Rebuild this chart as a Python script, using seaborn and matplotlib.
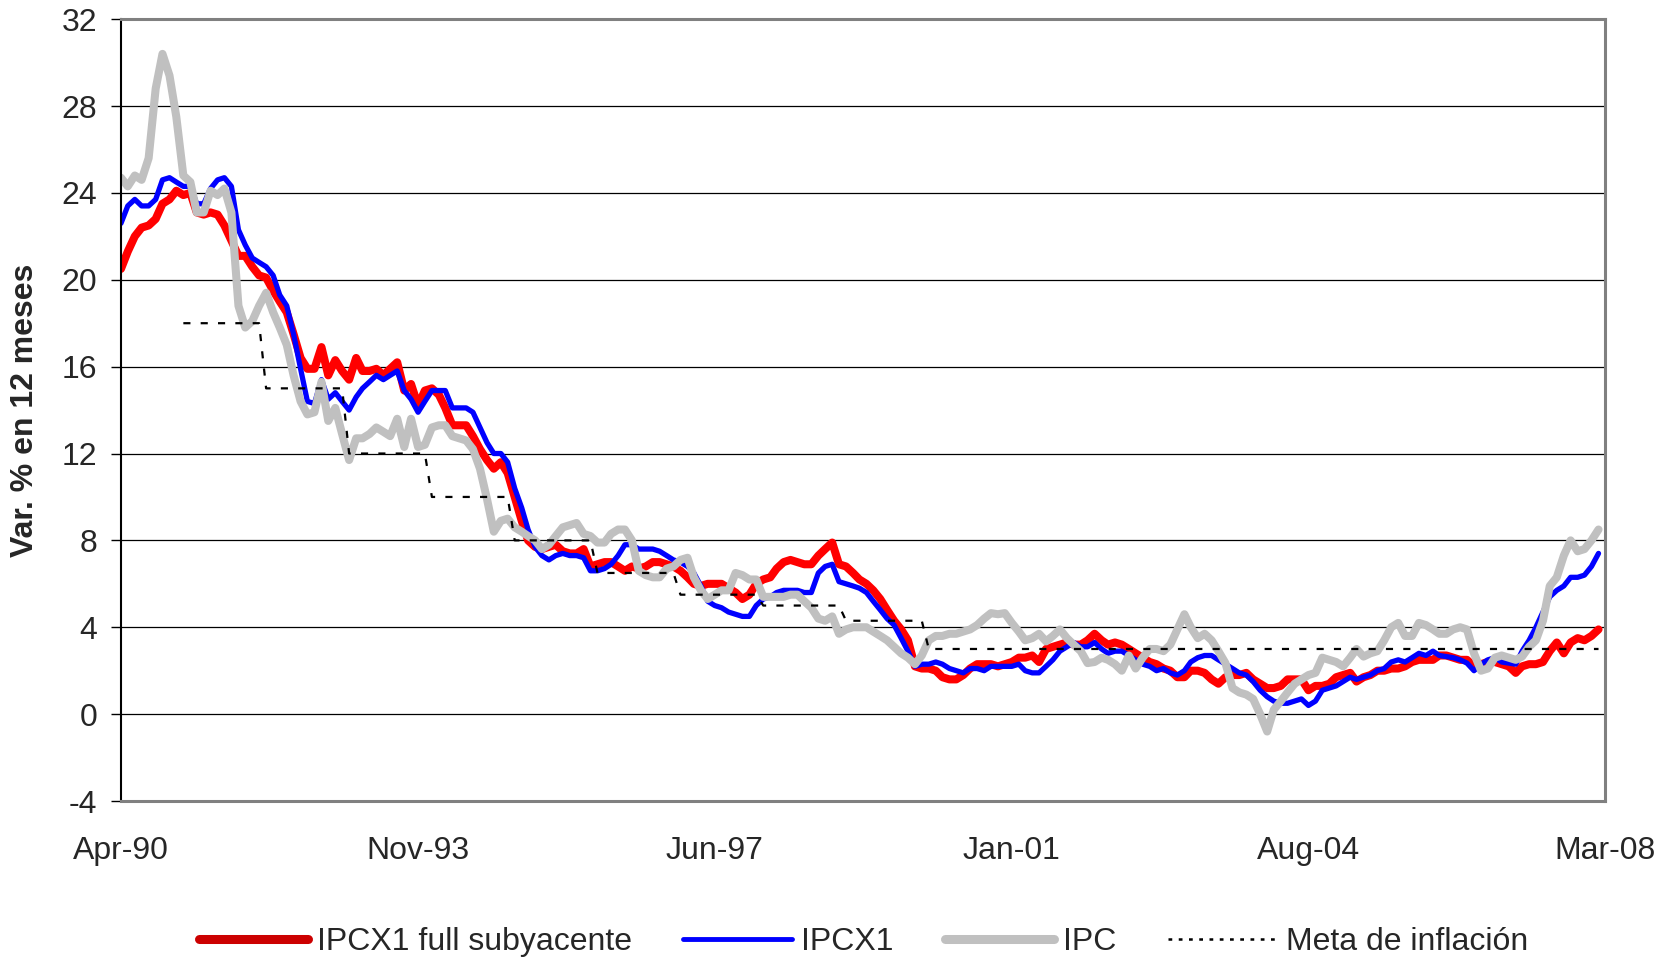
import numpy as np
import pandas as pd
import seaborn as sns
import matplotlib.pyplot as plt
import matplotlib.dates as mdates

# monthly series, Apr-90 .. Feb-08 (one row ~ one year from Apr)
ipcx1_full = [
    20.5, 21.3, 22.0, 22.4, 22.5, 22.8, 23.5, 23.7, 24.1, 23.9, 24.0, 23.1,
    23.0, 23.1, 23.0, 22.5, 21.8, 21.1, 21.1, 20.6, 20.2, 20.1, 19.5, 19.0,
    18.5, 17.5, 16.4, 15.9, 15.9, 16.9, 15.6, 16.3, 15.8, 15.4, 16.4, 15.8,
    15.8, 15.9, 15.6, 15.9, 16.2, 14.9, 15.2, 14.2, 14.9, 15.0, 14.7, 14.1,
    13.3, 13.3, 13.3, 12.8, 12.2, 11.7, 11.3, 11.6, 11.1, 10.0, 8.9, 8.0,
    7.7, 7.6, 7.7, 7.8, 7.5, 7.4, 7.4, 7.6, 6.8, 6.9, 7.0, 7.0,
    6.8, 6.6, 6.8, 6.7, 6.8, 7.0, 7.0, 6.9, 6.8, 6.6, 6.3, 6.0,
    5.9, 6.0, 6.0, 6.0, 5.8, 5.6, 5.3, 5.5, 6.0, 6.2, 6.3, 6.7,
    7.0, 7.1, 7.0, 6.9, 6.9, 7.3, 7.6, 7.9, 6.9, 6.8, 6.5, 6.2,
    6.0, 5.7, 5.3, 4.8, 4.3, 3.9, 3.4, 2.2, 2.1, 2.1, 2.0, 1.7,
    1.6, 1.6, 1.8, 2.1, 2.3, 2.3, 2.3, 2.2, 2.3, 2.4, 2.6, 2.6,
    2.7, 2.4, 3.0, 3.1, 3.2, 3.3, 3.2, 3.2, 3.4, 3.7, 3.4, 3.2,
    3.3, 3.2, 3.0, 2.8, 2.6, 2.4, 2.3, 2.1, 2.0, 1.7, 1.7, 2.0,
    2.0, 1.9, 1.6, 1.4, 1.7, 1.8, 1.8, 1.9, 1.6, 1.4, 1.2, 1.2,
    1.3, 1.6, 1.6, 1.6, 1.1, 1.3, 1.3, 1.4, 1.7, 1.8, 1.9, 1.5,
    1.7, 1.8, 2.0, 2.0, 2.1, 2.1, 2.2, 2.4, 2.5, 2.5, 2.5, 2.7,
    2.7, 2.6, 2.5, 2.5, 2.2, 2.3, 2.4, 2.4, 2.3, 2.2, 1.9, 2.2,
    2.3, 2.3, 2.4, 2.9, 3.3, 2.8, 3.3, 3.5, 3.4, 3.6, 3.9,
]

ipcx1 = [
    22.6, 23.4, 23.7, 23.4, 23.4, 23.7, 24.6, 24.7, 24.5, 24.3, 24.3, 23.5,
    23.5, 24.2, 24.6, 24.7, 24.3, 22.3, 21.6, 21.0, 20.8, 20.6, 20.2, 19.3,
    18.8, 17.5, 15.9, 14.4, 14.3, 15.4, 14.5, 14.8, 14.4, 14.0, 14.6, 15.0,
    15.3, 15.6, 15.4, 15.6, 15.8, 14.9, 14.5, 13.9, 14.4, 14.9, 14.9, 14.9,
    14.1, 14.1, 14.1, 13.9, 13.2, 12.5, 12.0, 12.0, 11.6, 10.4, 9.5, 8.5,
    7.7, 7.3, 7.1, 7.3, 7.4, 7.3, 7.3, 7.2, 6.6, 6.6, 6.7, 6.9,
    7.3, 7.8, 7.8, 7.6, 7.6, 7.6, 7.5, 7.3, 7.1, 7.0, 6.8, 6.5,
    5.9, 5.2, 5.0, 4.9, 4.7, 4.6, 4.5, 4.5, 5.0, 5.3, 5.4, 5.6,
    5.7, 5.7, 5.7, 5.6, 5.6, 6.5, 6.8, 6.9, 6.1, 6.0, 5.9, 5.8,
    5.6, 5.2, 4.8, 4.4, 4.1, 3.5, 2.9, 2.2, 2.3, 2.3, 2.4, 2.3,
    2.1, 2.0, 1.9, 2.1, 2.1, 2.0, 2.2, 2.2, 2.2, 2.2, 2.3, 2.0,
    1.9, 1.9, 2.2, 2.5, 2.9, 3.1, 3.3, 3.1, 3.1, 3.3, 3.0, 2.8,
    2.9, 2.9, 2.7, 2.5, 2.3, 2.2, 2.0, 2.1, 1.9, 1.8, 2.0, 2.4,
    2.6, 2.7, 2.7, 2.5, 2.3, 2.1, 1.9, 1.8, 1.5, 1.1, 0.8, 0.6,
    0.5, 0.5, 0.6, 0.7, 0.4, 0.6, 1.1, 1.2, 1.3, 1.5, 1.7, 1.6,
    1.7, 1.8, 2.0, 2.1, 2.4, 2.5, 2.4, 2.6, 2.8, 2.7, 2.9, 2.7,
    2.65, 2.6, 2.5, 2.35, 2.0, 2.3, 2.5, 2.6, 2.4, 2.35, 2.3, 2.9,
    3.4, 4.0, 4.7, 5.4, 5.7, 5.9, 6.3, 6.3, 6.4, 6.8, 7.4,
]

ipc = [
    24.7, 24.3, 24.8, 24.6, 25.6, 28.8, 30.4, 29.4, 27.5, 24.8, 24.5, 23.1,
    23.1, 24.1, 23.9, 24.2, 23.1, 18.8, 17.8, 18.1, 18.8, 19.4, 18.5, 17.8,
    17.0, 15.6, 14.4, 13.8, 13.9, 15.3, 13.5, 14.1, 12.9, 11.7, 12.7, 12.7,
    12.9, 13.2, 13.0, 12.8, 13.6, 12.3, 13.6, 12.3, 12.4, 13.2, 13.3, 13.3,
    12.8, 12.7, 12.6, 12.2, 11.3, 9.9, 8.4, 8.9, 9.0, 8.6, 8.4, 8.2,
    8.0, 7.6, 7.8, 8.2, 8.6, 8.7, 8.8, 8.3, 8.2, 7.9, 7.9, 8.3,
    8.5, 8.5, 8.0, 6.6, 6.4, 6.3, 6.3, 6.7, 6.8, 7.1, 7.2, 6.3,
    5.7, 5.3, 5.5, 5.7, 5.7, 6.5, 6.4, 6.2, 6.2, 5.4, 5.4, 5.4,
    5.4, 5.5, 5.5, 5.2, 4.9, 4.4, 4.3, 4.5, 3.7, 3.9, 4.0, 4.0,
    4.0, 3.8, 3.6, 3.4, 3.1, 2.8, 2.6, 2.3, 2.7, 3.4, 3.6, 3.6,
    3.7, 3.7, 3.8, 3.9, 4.1, 4.4, 4.65, 4.6, 4.65, 4.2, 3.8, 3.4,
    3.5, 3.7, 3.35, 3.6, 3.9, 3.5, 3.2, 2.9, 2.35, 2.4, 2.6, 2.5,
    2.3, 2.0, 2.7, 2.1, 2.6, 3.0, 3.0, 2.9, 3.2, 3.9, 4.6, 4.0,
    3.5, 3.7, 3.4, 2.9, 2.35, 1.2, 1.0, 0.9, 0.7, 0.0, -0.8, 0.2,
    0.6, 1.0, 1.4, 1.6, 1.8, 1.9, 2.6, 2.5, 2.4, 2.2, 2.6, 3.0,
    2.65, 2.8, 2.9, 3.4, 4.0, 4.2, 3.6, 3.6, 4.2, 4.1, 3.9, 3.7,
    3.7, 3.9, 4.0, 3.9, 2.8, 2.0, 2.1, 2.6, 2.7, 2.6, 2.5, 2.65,
    3.1, 3.4, 4.3, 5.9, 6.3, 7.3, 8.0, 7.5, 7.6, 8.0, 8.5,
]

# inflation target: yearly level and number of months it is shown
meta_values = [18, 15, 12, 10, 8, 6.5, 5.5, 5, 4.3, 3]
meta_months = [12, 12, 12, 12, 12, 12, 12, 12, 12, 98]

dates = pd.date_range("1990-04-01", periods=len(ipc), freq="MS")
meta = np.full(len(dates), np.nan)
meta[9:] = np.repeat(meta_values, meta_months)

df = pd.DataFrame({
    "fecha": dates,
    "full": ipcx1_full,
    "ipcx1": ipcx1,
    "ipc": ipc,
    "meta": meta,
})

sns.set_style("white")
plt.rcParams["font.family"] = ["Liberation Sans", "DejaVu Sans"]
plt.rcParams["axes.unicode_minus"] = False

fig = plt.figure(figsize=(16.64, 9.57), dpi=100)
ax = fig.add_axes([0.0727, 0.163, 0.8919, 0.817])

sns.lineplot(data=df, x="fecha", y="full", color="#FF0000", lw=5.8, ax=ax,
             label="IPCX1 full subyacente")
sns.lineplot(data=df, x="fecha", y="ipcx1", color="#0000FF", lw=3.8, ax=ax,
             label="IPCX1")
sns.lineplot(data=df, x="fecha", y="ipc", color="#C0C0C0", lw=5.8, ax=ax,
             label="IPC")
sns.lineplot(data=df, x="fecha", y="meta", color="black", lw=1.6, ax=ax,
             dashes=False, label="Meta de inflación")
ax.lines[-1].set_dashes((3.2, 4.6))

ax.set_ylim(-4, 32)
ax.set_yticks(np.arange(-4, 33, 4))
ax.set_xlim(pd.Timestamp("1990-04-01"), pd.Timestamp("2008-03-01"))
ax.set_xticks(pd.date_range("1990-04-01", periods=6, freq="43MS"))
ax.xaxis.set_major_formatter(mdates.DateFormatter("%b-%y"))

ax.grid(axis="y", color="black", lw=0.9)
ax.set_axisbelow(True)
for side in ["top", "right", "bottom"]:
    ax.spines[side].set_color("#808080")
    ax.spines[side].set_linewidth(2.2)
ax.spines["left"].set_color("black")
ax.spines["left"].set_linewidth(1.5)

ax.tick_params(axis="y", length=7, width=1, color="black", pad=10,
               labelsize=23, left=True)
ax.tick_params(axis="x", length=0, pad=25, labelsize=23)
ax.set_xlabel("")
ax.set_ylabel("Var. % en 12 meses", fontsize=23, fontweight="bold")
ax.yaxis.set_label_coords(-0.0545, 0.5)

leg = ax.legend(loc="center", bbox_to_anchor=(0.519, 0.016),
                bbox_transform=fig.transFigure, ncol=4, frameon=False,
                fontsize=23, handlelength=3.4, handletextpad=0.3,
                columnspacing=1.6)
leg.get_lines()[0].set_color("#CC0000")
leg.get_lines()[0].set_linewidth(6.5)
leg.get_lines()[1].set_linewidth(3.5)
leg.get_lines()[2].set_linewidth(6.5)
leg.get_lines()[3].set_linewidth(1.8)
leg.get_lines()[3].set_dashes((1.5, 2.6))

fig.savefig("out.png", dpi=100)
